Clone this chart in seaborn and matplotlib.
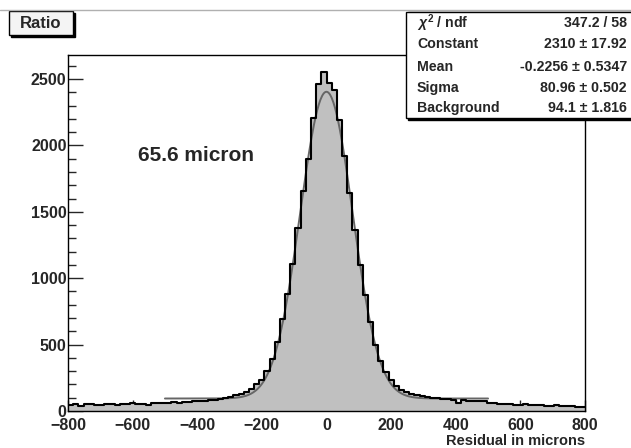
import matplotlib
matplotlib.use("Agg")
import matplotlib.pyplot as plt
import matplotlib.patches as mpatches
from matplotlib.ticker import MultipleLocator
import seaborn as sns
import numpy as np
import pandas as pd

# histogram: 100 bins of 16 microns from -800 to 800
bin_lo, bin_hi, bin_w = -800, 800, 16
counts = [
    45, 50, 38, 52, 50, 48, 42, 50, 55, 42, 55, 52, 58, 50, 56, 48, 60, 62, 58,
    62, 66, 64, 70, 68, 74, 72, 78, 80, 86, 92, 100,
    108, 118, 126, 142, 165, 200, 235, 300, 390, 520, 690, 880, 1110, 1380,
    1660, 1900, 2210, 2460, 2550,
    2470, 2415, 2190, 1920, 1640, 1360, 1100, 870, 670, 500, 380, 290, 230,
    185, 160, 140, 130, 120, 110, 104, 98, 100, 92, 88, 84, 62, 80, 78, 78,
    76, 74,
    60, 58, 55, 52, 50, 48, 46, 50, 44, 42, 45, 40, 38, 42, 36, 35, 38, 32, 30,
]

# fit result (gaus + constant) as printed in the stats box
fit_range = (-500, 500)
fit_const, fit_mean, fit_sigma, fit_bkg = 2310, -0.2256, 80.96, 94.1
stats_names = [r"$\chi^{2}$ / ndf", "Constant", "Mean", "Sigma", "Background"]
stats_values = ["347.2 / 58", "2310 \u00b1 17.92", "-0.2256 \u00b1 0.5347",
                "80.96 \u00b1 0.502", "94.1 \u00b1 1.816"]

sns.set_theme(style="white")
plt.rcParams["font.family"] = ["Liberation Sans", "DejaVu Sans"]
plt.rcParams["font.weight"] = "bold"
plt.rcParams["mathtext.fontset"] = "custom"
plt.rcParams["mathtext.rm"] = "Liberation Sans:bold"
plt.rcParams["mathtext.it"] = "Liberation Sans:italic:bold"

centers = np.arange(bin_lo + bin_w / 2, bin_hi, bin_w)
df = pd.DataFrame({"x": centers, "n": counts})

xf = np.linspace(fit_range[0], fit_range[1], 400)
fit_df = pd.DataFrame({
    "x": xf,
    "y": fit_const * np.exp(-0.5 * ((xf - fit_mean) / fit_sigma) ** 2) + fit_bkg,
})

fig = plt.figure(figsize=(6.31, 4.48), dpi=100)
ax = fig.add_axes([68 / 631, 37 / 448, 517 / 631, 356 / 448])

sns.histplot(data=df, x="x", weights="n", binwidth=bin_w,
             binrange=(bin_lo, bin_hi), element="step",
             fill=True, color="#c0c0c0", alpha=1, linewidth=0, ax=ax)
sns.lineplot(data=fit_df, x="x", y="y", color="#666666", linewidth=1.4, ax=ax)
sns.histplot(data=df, x="x", weights="n", binwidth=bin_w,
             binrange=(bin_lo, bin_hi), element="step",
             fill=False, color="black", linewidth=1.5, ax=ax)

ax.set_xlim(bin_lo, bin_hi)
ax.set_ylim(0, 2681)
ax.xaxis.set_major_locator(MultipleLocator(200))
ax.xaxis.set_minor_locator(MultipleLocator(50))
ax.yaxis.set_major_locator(MultipleLocator(500))
ax.yaxis.set_minor_locator(MultipleLocator(100))
ax.tick_params(axis="y", which="major", direction="in", length=11, width=1,
               labelsize=11.5, pad=1, left=True, right=False)
ax.tick_params(axis="y", which="minor", direction="in", length=5.5, width=1,
               left=True, right=False)
ax.tick_params(axis="x", which="major", direction="in", length=7.7, width=1,
               labelsize=11.5, pad=5, bottom=True, top=False)
ax.tick_params(axis="x", which="minor", direction="in", length=3.8, width=1,
               bottom=True, top=False)
for lab in ax.get_xticklabels() + ax.get_yticklabels():
    lab.set_fontweight("bold")
for sp in ax.spines.values():
    sp.set_color("black")
    sp.set_linewidth(1)
ax.set_ylabel("")
ax.set_xlabel("")
fig.text(585 / 631, 1 - 441 / 448, "Residual in microns", ha="right",
         va="center", fontsize=10.5, fontweight="bold")

ax.text(0.135, 0.719, "65.6 micron", transform=ax.transAxes, ha="left",
        va="center", fontsize=15, fontweight="bold")

# page border line and title box
fig.add_artist(plt.Line2D([0, 1], [1 - 10 / 448, 1 - 10 / 448],
                          color="#b0b0b0", linewidth=1))
fig.add_artist(mpatches.Rectangle((11 / 631, 1 - 37 / 448), 64 / 631, 24 / 448,
                                  transform=fig.transFigure, facecolor="black",
                                  edgecolor="black"))
fig.add_artist(mpatches.Rectangle((9 / 631, 1 - 35 / 448), 64 / 631, 24 / 448,
                                  transform=fig.transFigure, facecolor="#f4f4f4",
                                  edgecolor="black", linewidth=1))
fig.text(41 / 631, 1 - 23 / 448, "Ratio", ha="center", va="center",
         fontsize=12, fontweight="bold")

# stats box
fig.add_artist(mpatches.Rectangle((408 / 631, 1 - 120 / 448), 230 / 631, 108 / 448,
                                  transform=fig.transFigure, facecolor="black",
                                  edgecolor="black"))
fig.add_artist(mpatches.Rectangle((406 / 631, 1 - 118 / 448), 230 / 631, 106 / 448,
                                  transform=fig.transFigure, facecolor="white",
                                  edgecolor="black", linewidth=1))
row_y = [23, 44, 67, 88, 108]
for name, val, yy in zip(stats_names, stats_values, row_y):
    fig.text(417 / 631, 1 - yy / 448, name, ha="left", va="center",
             fontsize=10.2, fontweight="bold")
    fig.text(627 / 631, 1 - yy / 448, val, ha="right", va="center",
             fontsize=10.2, fontweight="bold")

fig.savefig("out.png", dpi=100)
